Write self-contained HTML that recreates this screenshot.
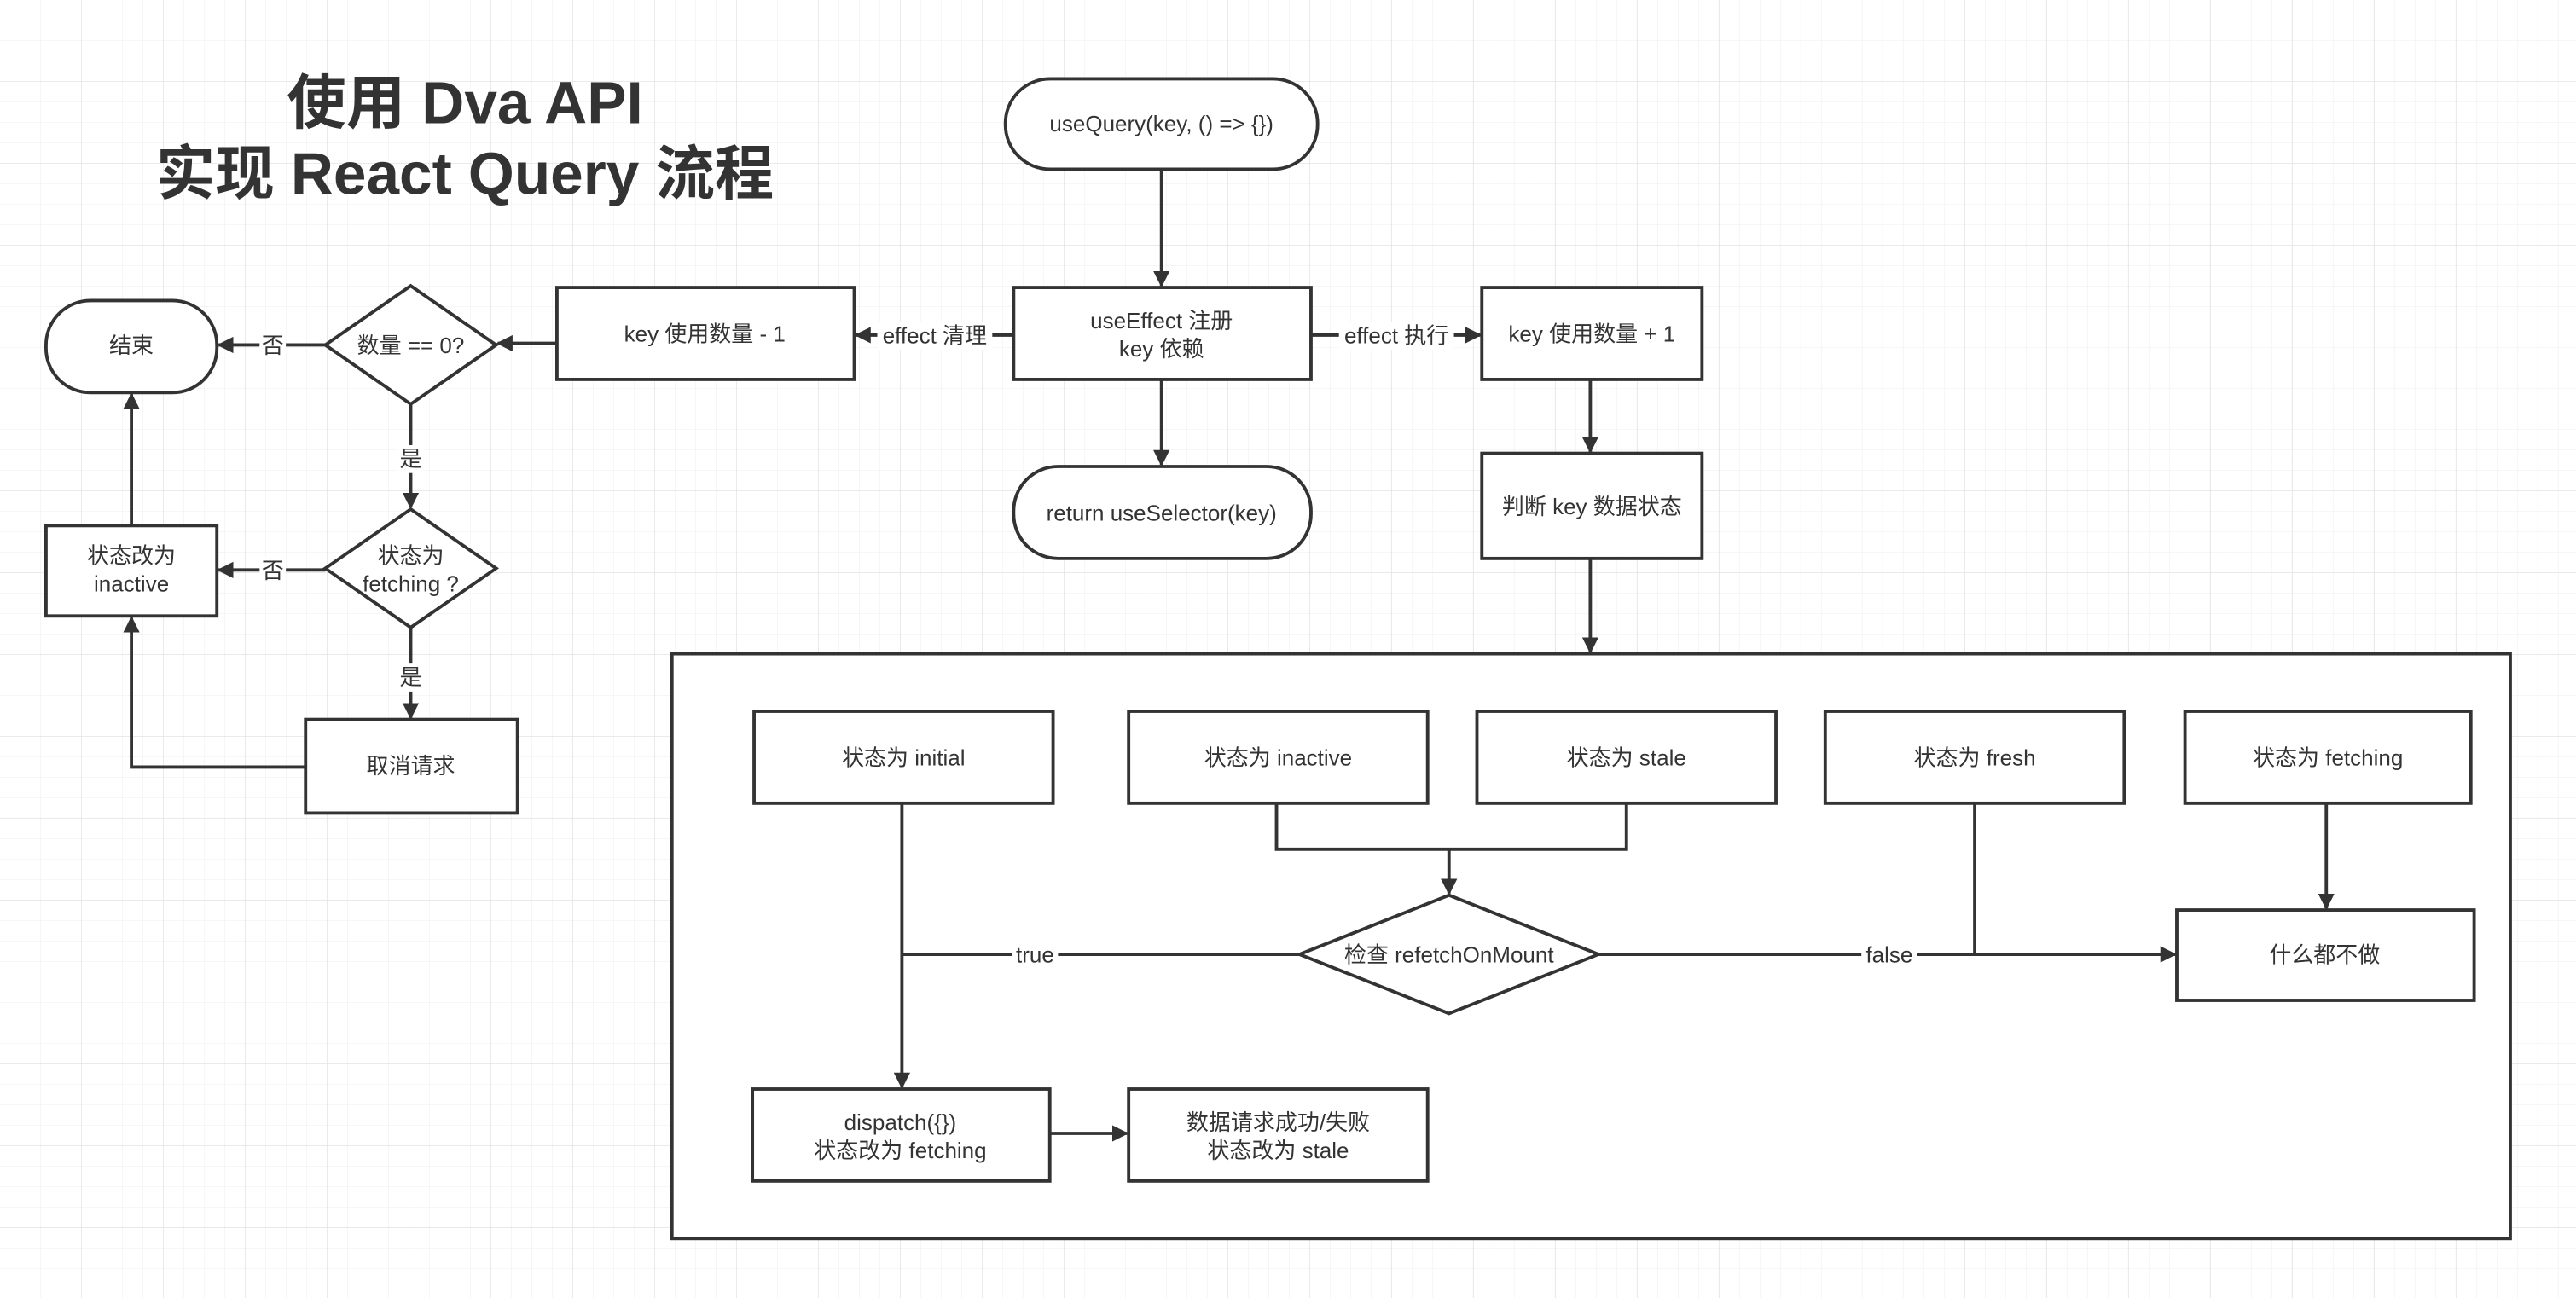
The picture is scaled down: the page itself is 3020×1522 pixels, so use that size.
<!DOCTYPE html>
<html><head><meta charset="utf-8"><style>
html,body{margin:0;padding:0;background:#fff;}
svg{display:block;}
text{font-family:"Liberation Sans","Noto Sans CJK SC",sans-serif;fill:#333;}
</style></head><body>
<svg width="3020" height="1522" viewBox="0 0 1568 790.2" preserveAspectRatio="none" xmlns="http://www.w3.org/2000/svg">
<defs>
<pattern id="g" width="12.46" height="12.46" patternUnits="userSpaceOnUse"><path d="M12.46 0V12.46H0" fill="none" stroke="#f0f0f0" stroke-width="0.6"/></pattern>
<pattern id="G" width="49.84" height="49.84" patternUnits="userSpaceOnUse"><path d="M49.84 0V49.84H0" fill="none" stroke="#e4e4e4" stroke-width="0.8"/></pattern>
<marker id="a" markerWidth="10" markerHeight="10" refX="9" refY="5" orient="auto" markerUnits="userSpaceOnUse"><path d="M0,0L10,5L0,10Z" fill="#333"/></marker>
</defs>
<rect width="1568" height="790.2" fill="#fff"/>
<rect width="1568" height="790.2" fill="url(#g)"/>
<rect width="1568" height="790.2" fill="url(#G)"/>
<g font-weight="bold" font-size="36" text-anchor="middle">
<text x="283" y="75">使用 Dva API</text>
<text x="283" y="118">实现 React Query 流程</text>
</g>
<g fill="#fff" stroke="#333" stroke-width="2">
<rect x="612" y="48" width="190" height="55" rx="27"/>
<rect x="617" y="175" width="181" height="56"/>
<rect x="617" y="284" width="181" height="56" rx="27"/>
<rect x="339" y="175" width="181" height="56"/>
<rect x="902" y="175" width="134" height="56"/>
<rect x="902" y="276" width="134" height="64"/>
<rect x="409" y="398" width="1119" height="356"/>
<path d="M250,174L302,210L250,246L198,210Z"/>
<path d="M250,310L302,346L250,382L198,346Z"/>
<rect x="28" y="183" width="104" height="56" rx="27"/>
<rect x="28" y="320" width="104" height="55"/>
<rect x="186" y="438" width="129" height="57"/>
<rect x="459" y="433" width="182" height="56"/>
<rect x="687" y="433" width="182" height="56"/>
<rect x="899" y="433" width="182" height="56"/>
<rect x="1111" y="433" width="182" height="56"/>
<rect x="1330" y="433" width="174" height="56"/>
<rect x="1325" y="554" width="181" height="55"/>
<path d="M882,545L973,581L882,617L791,581Z"/>
<rect x="458" y="663" width="181" height="56"/>
<rect x="687" y="663" width="182" height="56"/>
</g>
<g fill="none" stroke="#333" stroke-width="2">
<path d="M707,103V174" marker-end="url(#a)"/>
<path d="M707,231V283" marker-end="url(#a)"/>
<path d="M617,204H521" marker-end="url(#a)"/>
<path d="M798,204H901" marker-end="url(#a)"/>
<path d="M968,231V275" marker-end="url(#a)"/>
<path d="M968,340V397" marker-end="url(#a)"/>
<path d="M339,209H303" marker-end="url(#a)"/>
<path d="M198,210H133" marker-end="url(#a)"/>
<path d="M250,246V309" marker-end="url(#a)"/>
<path d="M198,347H133" marker-end="url(#a)"/>
<path d="M250,382V437" marker-end="url(#a)"/>
<path d="M80,320V240" marker-end="url(#a)"/>
<path d="M186,467H80V376" marker-end="url(#a)"/>
<path d="M549,489V662" marker-end="url(#a)"/>
<path d="M777,489V517H990V489"/>
<path d="M882,517V544" marker-end="url(#a)"/>
<path d="M791,581H549"/>
<path d="M973,581H1324" marker-end="url(#a)"/>
<path d="M1202,489V581"/>
<path d="M1416,489V553" marker-end="url(#a)"/>
<path d="M639,690H686" marker-end="url(#a)"/>
</g>
<g font-size="13.5" text-anchor="middle">
<rect x="534" y="196" width="70" height="17" fill="#fff"/>
<text x="569" y="209">effect 清理</text>
<rect x="815" y="196" width="70" height="17" fill="#fff"/>
<text x="850" y="209">effect 执行</text>
<rect x="158" y="202" width="16" height="17" fill="#fff"/>
<text x="166" y="215">否</text>
<rect x="158" y="339" width="16" height="17" fill="#fff"/>
<text x="166" y="352">否</text>
<rect x="242" y="271" width="16" height="17" fill="#fff"/>
<text x="250" y="284">是</text>
<rect x="242" y="404" width="16" height="17" fill="#fff"/>
<text x="250" y="417">是</text>
<rect x="616" y="574" width="28" height="16" fill="#fff"/>
<text x="630" y="586">true</text>
<rect x="1133" y="574" width="34" height="16" fill="#fff"/>
<text x="1150" y="586">false</text>
<text x="707" y="80">useQuery(key, () =&gt; {})</text>
<text x="707" y="200">useEffect 注册</text>
<text x="707" y="217">key 依赖</text>
<text x="707" y="317">return useSelector(key)</text>
<text x="429" y="208">key 使用数量 - 1</text>
<text x="969" y="208">key 使用数量 + 1</text>
<text x="969" y="313">判断 key 数据状态</text>
<text x="250" y="215">数量 == 0?</text>
<text x="250" y="343">状态为</text>
<text x="250" y="360">fetching ?</text>
<text x="80" y="215">结束</text>
<text x="80" y="343">状态改为</text>
<text x="80" y="360">inactive</text>
<text x="250" y="471">取消请求</text>
<text x="550" y="466">状态为 initial</text>
<text x="778" y="466">状态为 inactive</text>
<text x="990" y="466">状态为 stale</text>
<text x="1202" y="466">状态为 fresh</text>
<text x="1417" y="466">状态为 fetching</text>
<text x="1415" y="586">什么都不做</text>
<text x="882" y="586">检查 refetchOnMount</text>
<text x="548" y="688">dispatch({})</text>
<text x="548" y="705">状态改为 fetching</text>
<text x="778" y="688">数据请求成功/失败</text>
<text x="778" y="705">状态改为 stale</text>
</g>
</svg>
</body></html>
